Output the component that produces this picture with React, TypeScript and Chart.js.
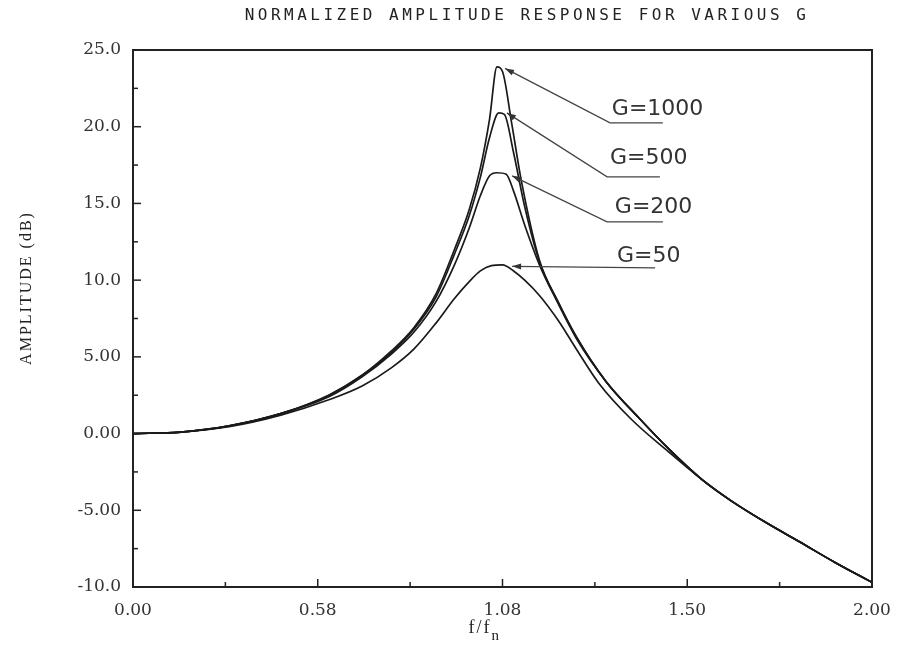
import React, { useEffect, useRef } from 'react';
import { Chart, registerables } from 'chart.js';

Chart.register(...registerables);

// Tick labels as printed on the original plot
const xTickLabels = ['0.00', '0.58', '1.08', '1.50', '2.00'];
const yTickLabels = ['-10.0', '-5.00', '0.00', '5.00', '10.0', '15.0', '20.0', '25.0'];

// Series (x in axis units 0..2, y in dB)
const g1000X = [0, 0.13, 0.26, 0.40, 0.53, 0.62, 0.70, 0.76, 0.82, 0.87, 0.91, 0.94, 0.965, 0.985, 1.0, 1.025, 1.05, 1.10, 1.15, 1.20, 1.28, 1.37, 1.45, 1.54, 1.62, 1.72, 1.80, 1.90, 2.0];
const g1000Y = [0, 0.1, 0.5, 1.3, 2.5, 3.8, 5.4, 6.9, 9.1, 12.0, 14.6, 17.3, 20.5, 23.9, 23.6, 20.2, 16.6, 11.3, 8.6, 6.3, 3.4, 1.0, -1.0, -3.0, -4.4, -5.9, -7.0, -8.4, -9.7];

const g500X = [0, 0.13, 0.26, 0.40, 0.53, 0.62, 0.70, 0.76, 0.82, 0.87, 0.91, 0.94, 0.965, 0.99, 1.005, 1.03, 1.06, 1.10, 1.15, 1.20, 1.28, 1.37, 1.45, 1.54, 1.62, 1.72, 1.80, 1.90, 2.0];
const g500Y = [0, 0.1, 0.5, 1.3, 2.5, 3.8, 5.3, 6.8, 8.9, 11.7, 14.2, 16.7, 19.3, 20.9, 20.8, 18.3, 14.8, 11.2, 8.6, 6.3, 3.4, 1.0, -1.0, -3.0, -4.4, -5.9, -7.0, -8.4, -9.7];

const g200X = [0, 0.13, 0.26, 0.40, 0.53, 0.62, 0.70, 0.76, 0.82, 0.87, 0.91, 0.94, 0.965, 0.985, 1.01, 1.03, 1.06, 1.10, 1.15, 1.20, 1.28, 1.37, 1.45, 1.54, 1.62, 1.72, 1.80, 1.90, 2.0];
const g200Y = [0, 0.1, 0.5, 1.3, 2.4, 3.7, 5.2, 6.6, 8.6, 11.0, 13.4, 15.5, 16.8, 17.0, 16.9, 15.8, 13.6, 11.0, 8.5, 6.2, 3.4, 1.0, -1.0, -3.0, -4.4, -5.9, -7.0, -8.4, -9.7];

const g50X = [0, 0.13, 0.26, 0.40, 0.53, 0.62, 0.70, 0.76, 0.82, 0.87, 0.91, 0.94, 0.97, 1.00, 1.03, 1.06, 1.10, 1.15, 1.20, 1.26, 1.35, 1.45, 1.54, 1.62, 1.72, 1.80, 1.90, 2.0];
const g50Y = [0, 0.1, 0.45, 1.2, 2.2, 3.1, 4.3, 5.5, 7.2, 8.8, 9.9, 10.6, 10.95, 11.0, 10.6, 10.0, 9.0, 7.4, 5.5, 3.3, 0.9, -1.2, -3.0, -4.4, -5.9, -7.0, -8.4, -9.7];

// Annotation labels with leader arrows (anchored in data units)
const annLabels = ['G=1000', 'G=500', 'G=200', 'G=50'];
const annTextX = [1.296, 1.291, 1.304, 1.31];
const annTextY = [20.77, 17.6, 14.4, 11.2];
const annTipX = [1.007, 1.012, 1.026, 1.026];
const annTipY = [23.8, 20.9, 16.8, 10.9];
const annTailX = [1.291, 1.283, 1.283, 1.413];
const annTailY = [20.25, 16.73, 13.8, 10.8];
const annUnderEndX = [1.434, 1.426, 1.434, 1.413];

const TITLE = 'NORMALIZED AMPLITUDE RESPONSE FOR VARIOUS G';
const Y_TITLE = 'AMPLITUDE (dB)';

const toPts = (xs: number[], ys: number[]) => xs.map((x, i) => ({ x, y: ys[i] }));

const framePlugin = {
  id: 'framePlugin',
  afterDraw(chart: any) {
    const { ctx, chartArea } = chart;
    const xs = chart.scales.x;
    const ys = chart.scales.y;
    const { left, right, top, bottom } = chartArea;
    ctx.save();
    // frame
    ctx.strokeStyle = '#222';
    ctx.lineWidth = 2;
    ctx.strokeRect(left, top, right - left, bottom - top);
    // inward ticks
    ctx.lineWidth = 1.5;
    xs.ticks.forEach((t: any) => {
      const px = xs.getPixelForValue(t.value);
      const major = Math.abs(t.value * 2 - Math.round(t.value * 2)) < 1e-6;
      ctx.beginPath();
      ctx.moveTo(px, bottom);
      ctx.lineTo(px, bottom - (major ? 8 : 5));
      ctx.stroke();
    });
    ys.ticks.forEach((t: any) => {
      const py = ys.getPixelForValue(t.value);
      const major = Math.abs(t.value / 5 - Math.round(t.value / 5)) < 1e-6;
      ctx.beginPath();
      ctx.moveTo(left, py);
      ctx.lineTo(left + (major ? 8 : 5), py);
      ctx.stroke();
    });

    // title
    ctx.fillStyle = '#222';
    ctx.font = '16px "DejaVu Sans Mono"';
    (ctx as any).letterSpacing = '3.5px';
    ctx.textAlign = 'center';
    ctx.textBaseline = 'middle';
    ctx.fillText(TITLE, 527, 16);

    // y axis title
    ctx.save();
    ctx.font = '16px "Liberation Serif"';
    (ctx as any).letterSpacing = '2px';
    ctx.translate(27, 288);
    ctx.rotate(-Math.PI / 2);
    ctx.fillText(Y_TITLE, 0, 0);
    ctx.restore();

    // x axis title f/f_n
    (ctx as any).letterSpacing = '2px';
    ctx.font = '18px "Liberation Serif"';
    ctx.textAlign = 'left';
    ctx.textBaseline = 'alphabetic';
    const cx = xs.getPixelForValue(1.0);
    ctx.fillText('f/f', cx - 34, 633);
    const w = ctx.measureText('f/f').width;
    (ctx as any).letterSpacing = '0px';
    ctx.font = '15px "Liberation Serif"';
    ctx.fillText('n', cx - 34 + w, 640);

    // annotations
    ctx.strokeStyle = '#444';
    ctx.fillStyle = '#333';
    ctx.lineWidth = 1.3;
    for (let i = 0; i < annLabels.length; i++) {
      const tx = xs.getPixelForValue(annTextX[i]);
      const ty = ys.getPixelForValue(annTextY[i]);
      const px = xs.getPixelForValue(annTipX[i]);
      const py = ys.getPixelForValue(annTipY[i]);
      const qx = xs.getPixelForValue(annTailX[i]);
      const qy = ys.getPixelForValue(annTailY[i]);
      const ux = xs.getPixelForValue(annUnderEndX[i]);
      ctx.beginPath();
      ctx.moveTo(ux, qy);
      ctx.lineTo(qx, qy);
      ctx.lineTo(px, py);
      ctx.stroke();
      // arrowhead
      const ang = Math.atan2(py - qy, px - qx);
      const L = 9, W = 3;
      ctx.beginPath();
      ctx.moveTo(px, py);
      ctx.lineTo(px - L * Math.cos(ang) + W * Math.sin(ang), py - L * Math.sin(ang) - W * Math.cos(ang));
      ctx.lineTo(px - L * Math.cos(ang) - W * Math.sin(ang), py - L * Math.sin(ang) + W * Math.cos(ang));
      ctx.closePath();
      ctx.fill();
      // label
      ctx.font = '22px "DejaVu Sans"';
      ctx.textAlign = 'left';
      ctx.textBaseline = 'alphabetic';
      ctx.fillText(annLabels[i], tx, ty);
    }
    ctx.restore();
  },
};

export default function App() {
  const ref = useRef<HTMLCanvasElement | null>(null);
  useEffect(() => {
    if (!ref.current) return;
    const line = (label: string, xs: number[], ys: number[]) => ({
      label,
      data: toPts(xs, ys),
      borderColor: '#1a1a1a',
      borderWidth: 1.7,
      pointRadius: 0,
      fill: false,
      cubicInterpolationMode: 'monotone' as const,
    });
    const chart = new Chart(ref.current, {
      type: 'line',
      data: {
        datasets: [
          line('G=1000', g1000X, g1000Y),
          line('G=500', g500X, g500Y),
          line('G=200', g200X, g200Y),
          line('G=50', g50X, g50Y),
        ],
      },
      options: {
        animation: false,
        responsive: false,
        maintainAspectRatio: false,
        layout: { padding: { left: 0, right: 31, top: 50, bottom: 0 } },
        plugins: {
          legend: { display: false },
          title: { display: false },
          tooltip: { enabled: false },
        },
        scales: {
          x: {
            type: 'linear',
            min: 0,
            max: 2,
            grid: { display: false },
            border: { display: false },
            ticks: {
              stepSize: 0.25,
              autoSkip: false,
              maxRotation: 0,
              padding: 5,
              color: '#333',
              font: { family: 'DejaVu Serif', size: 17 },
              callback: (v: any) => {
                const i = Math.round(Number(v) * 2);
                return Math.abs(Number(v) * 2 - i) < 1e-6 ? xTickLabels[i] : '';
              },
            },
            afterFit: (s: any) => { s.height = 68; },
          },
          y: {
            type: 'linear',
            min: -10,
            max: 25,
            grid: { display: false },
            border: { display: false },
            ticks: {
              stepSize: 2.5,
              autoSkip: false,
              padding: 4,
              color: '#333',
              font: { family: 'DejaVu Serif', size: 17 },
              callback: (v: any) => {
                const n = Number(v);
                const i = Math.round(n / 5);
                return Math.abs(n / 5 - i) < 1e-6 ? yTickLabels[i + 2] : '';
              },
            },
            afterFit: (s: any) => { s.width = 133; },
          },
        },
      },
      plugins: [framePlugin],
    });
    return () => chart.destroy();
  }, []);
  return (
    <div style={{ position: 'fixed', left: 0, top: 0, width: 903, height: 655, background: '#fff' }}>
      <canvas ref={ref} width={903} height={655} style={{ width: 903, height: 655 }} />
    </div>
  );
}
